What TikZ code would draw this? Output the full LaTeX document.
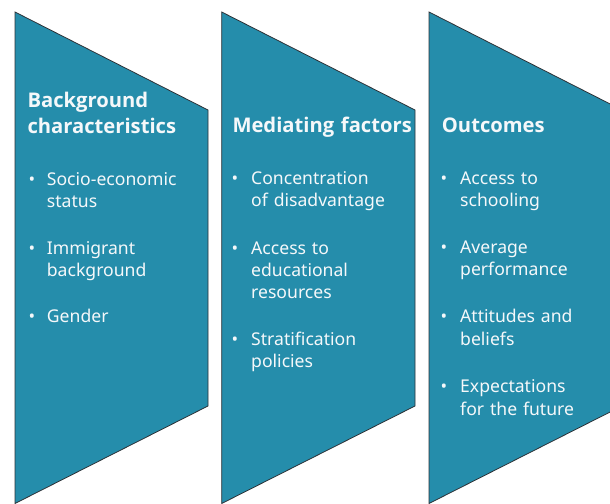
\documentclass[tikz,border=0pt]{standalone}
\usepackage{fontspec}
\setmainfont{Noto Sans}
\newfontfamily\headfont{Open Sans}
\definecolor{panel}{RGB}{37,141,171}
\definecolor{edge}{RGB}{45,50,55}
\definecolor{txt}{RGB}{245,248,250}
\begin{document}
\begin{tikzpicture}[x=1pt,y=-1pt,
  panelshape/.style={fill=panel,draw=edge,line width=0.8pt,line join=miter},
  head/.style={anchor=base west,inner sep=0pt,text=txt,text width=190pt,align=left,
    font=\headfont\fontsize{20.2}{26.3}\selectfont\bfseries},
  itemtext/.style={anchor=base west,inner sep=0pt,text=txt,text width=160pt,align=left,
    font=\fontsize{17.6}{22.3}\selectfont},
  bul/.style={anchor=base,inner sep=0pt,text=txt,font=\fontsize{17.5}{17.5}\selectfont}]
\useasboundingbox (0,0) rectangle (610,503);
\clip (0,0) rectangle (610,503);
% panels
\draw[panelshape] (15,12) -- (208,110) -- (208,406) -- (15,503.5) -- cycle;
\draw[panelshape] (221.7,12) -- (415,110) -- (415,406) -- (221.7,503.5) -- cycle;
\draw[panelshape] (429,12) -- (622,110) -- (622,406) -- (429,503.5) -- cycle;
% headings
\node[head] (h1) at (27.3,107) {Background\\characteristics};
\node[head] (h2) at (232.3,132.7) {Mediating factors};
\node[head] (h3) at (441.7,132.7) {Outcomes};
% panel 1
\node[bul] (b11) at (32,185) {•};
\node[itemtext] (t11) at (46.7,185) {Socio-economic\\status};
\node[bul] (b12) at (32,254.3) {•};
\node[itemtext] (t12) at (46.7,254.3) {Immigrant\\background};
\node[bul] (b13) at (32,322.3) {•};
\node[itemtext] (t13) at (46.7,322.3) {Gender};
% panel 2
\node[bul] (b21) at (235,184) {•};
\node[itemtext] (t21) at (251,184) {Concentration\\of disadvantage};
\node[bul] (b22) at (235,254) {•};
\node[itemtext] (t22) at (251,254) {Access to\\educational\\resources};
\node[bul] (b23) at (235,345) {•};
\node[itemtext] (t23) at (251,345) {Stratification\\policies};
% panel 3
\node[bul] (b31) at (444,184) {•};
\node[itemtext] (t31) at (460,184) {Access to\\schooling};
\node[bul] (b32) at (444,253) {•};
\node[itemtext] (t32) at (460,253) {Average\\performance};
\node[bul] (b33) at (444,322.7) {•};
\node[itemtext] (t33) at (460,322.7) {Attitudes and\\beliefs};
\node[bul] (b34) at (444,392.7) {•};
\node[itemtext] (t34) at (460,392.7) {Expectations\\for the future};
\end{tikzpicture}
\end{document}
